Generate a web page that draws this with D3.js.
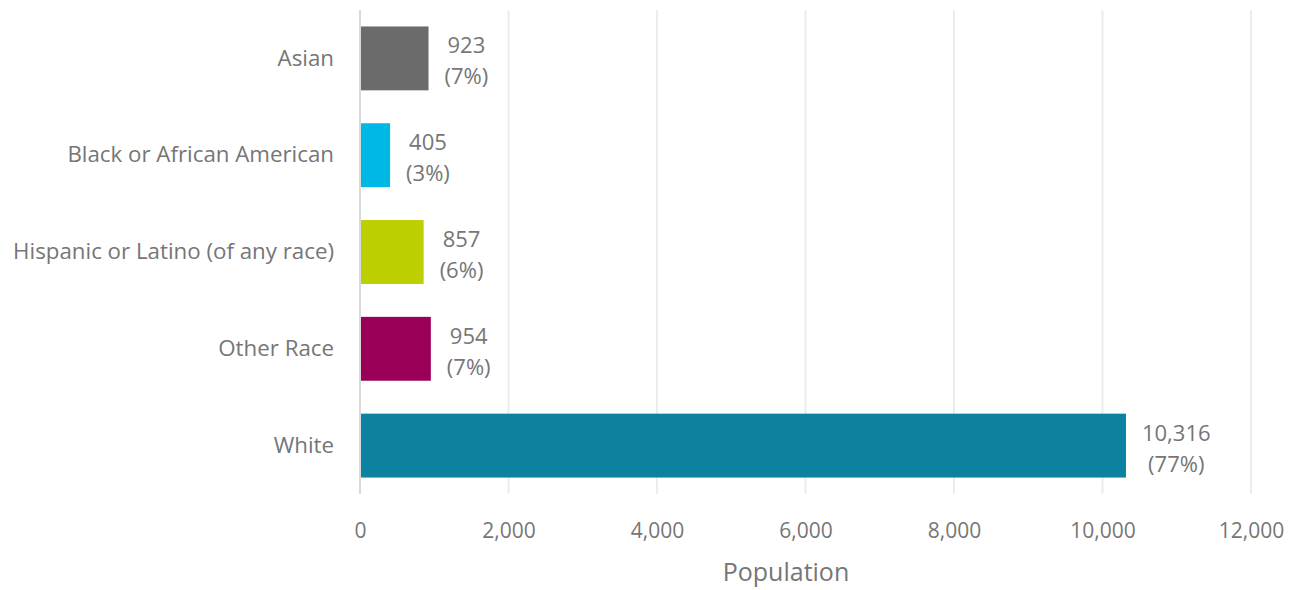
<!DOCTYPE html>
<html>
<head>
<meta charset="utf-8">
<script src="https://cdn.jsdelivr.net/npm/d3@7"></script>
<style>
  html, body { margin: 0; padding: 0; background: #ffffff; }
  svg { display: block; font-family: "Open Sans", "Noto Sans", sans-serif; }
</style>
</head>
<body>
<svg id="chart" width="1297" height="590"></svg>
<script>
// Population by race / ethnicity
const categories = ["Asian", "Black or African American", "Hispanic or Latino (of any race)", "Other Race", "White"];
const populations = [923, 405, 857, 954, 10316];
const barColors = ["#6b6b6b", "#00b8e6", "#bccf00", "#9b0058", "#0c82a0"];
const xTicks = [0, 2000, 4000, 6000, 8000, 10000, 12000];
const axisTitle = "Population";

const svg = d3.select("#chart");
const margin = { left: 360, right: 46, top: 10, bottom: 96 };
const width = 1297, height = 590;
const textColor = "#767676";
const font = "\"Open Sans\", \"Noto Sans\", sans-serif";

const x = d3.scaleLinear().domain([0, 12000]).range([margin.left, width - margin.right]);
const y = d3.scaleBand().domain(categories).range([margin.top, height - margin.bottom]).paddingInner(0.34).paddingOuter(0.17);

const total = d3.sum(populations);
const fmt = d3.format(",");

// vertical gridlines
svg.append("g").selectAll("line").data(xTicks.slice(1)).join("line")
  .attr("x1", d => x(d)).attr("x2", d => x(d))
  .attr("y1", margin.top).attr("y2", height - margin.bottom)
  .attr("stroke", "#ececec").attr("stroke-width", 2);

// bars
svg.append("g").selectAll("rect").data(categories).join("rect")
  .attr("x", x(0))
  .attr("y", d => y(d))
  .attr("width", (d, i) => x(populations[i]) - x(0))
  .attr("height", y.bandwidth())
  .attr("fill", (d, i) => barColors[i]);

// baseline
svg.append("line")
  .attr("x1", x(0)).attr("x2", x(0))
  .attr("y1", margin.top).attr("y2", height - margin.bottom)
  .attr("stroke", "#d9d9d9").attr("stroke-width", 2);

// x axis tick labels
const xAxis = d3.axisBottom(x).tickValues(xTicks).tickFormat(fmt).tickSize(0).tickPadding(0);
const gx = svg.append("g").attr("transform", `translate(0, ${height - margin.bottom + 29})`).call(xAxis);
gx.select(".domain").remove();
gx.selectAll("text").attr("fill", textColor).attr("font-size", 21).attr("font-family", font);

// category labels
const yAxis = d3.axisLeft(y).tickSize(0).tickPadding(26);
const gy = svg.append("g").attr("transform", `translate(${margin.left}, 0)`).call(yAxis);
gy.select(".domain").remove();
gy.selectAll("text").attr("fill", textColor).attr("font-size", 22.3).attr("font-family", font);

// value labels: count and share, centred in a block to the right of each bar
const labels = svg.append("g").selectAll("g").data(categories).join("g");
labels.each(function (d, i) {
  const g = d3.select(this);
  const cy = y(d) + y.bandwidth() / 2;
  const lines = [fmt(populations[i]), `(${Math.round(populations[i] / total * 100)}%)`];
  const texts = lines.map((t, k) => g.append("text")
    .attr("y", cy + (k === 0 ? -5 : 26))
    .attr("text-anchor", "middle")
    .attr("fill", textColor).attr("font-size", 22)
    .text(t));
  const w = d3.max(texts, t => t.node().getComputedTextLength());
  texts.forEach(t => t.attr("x", x(populations[i]) + 16 + w / 2));
});

// axis title
svg.append("text")
  .attr("x", 786).attr("y", height - 9)
  .attr("text-anchor", "middle")
  .attr("fill", textColor).attr("font-size", 25)
  .text(axisTitle);
</script>
</body>
</html>
